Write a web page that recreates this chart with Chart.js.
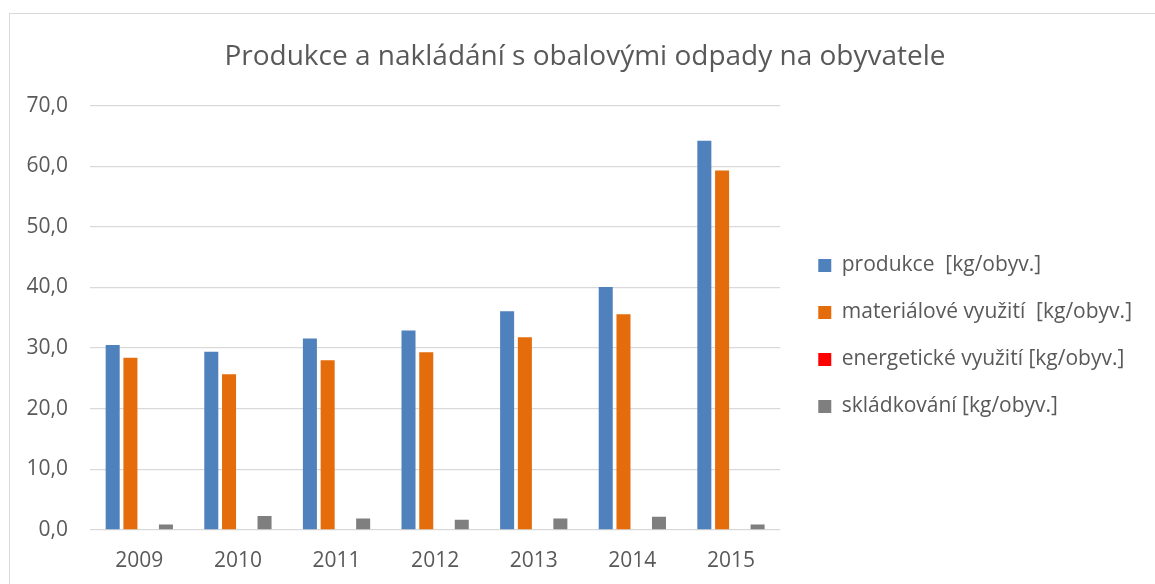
<!DOCTYPE html>
<html lang="cs">
<head>
<meta charset="utf-8">
<title>Produkce a nakládání s obalovými odpady na obyvatele</title>
<script src="https://cdn.jsdelivr.net/npm/chart.js@4.4.1/dist/chart.umd.min.js"></script>
<style>
  html, body { margin: 0; padding: 0; background: #fff; }
  #wrap { position: relative; width: 1155px; height: 584px; overflow: hidden; }
  #frame {
    position: absolute; left: 9px; top: 13px; right: -5px; bottom: -5px;
    border-left: 1px solid #d9d9d9; border-top: 1px solid #d9d9d9;
    pointer-events: none;
  }
  canvas { position: absolute; left: 0; top: 0; }
</style>
</head>
<body>
<div id="wrap">
  <canvas id="odpadyChart" width="1155" height="584"></canvas>
  <div id="frame"></div>
</div>
<script>
// roky na ose x
const roky = ['2009', '2010', '2011', '2012', '2013', '2014', '2015'];

// hodnoty v kg na obyvatele
const produkce    = [30.5, 29.4, 31.6, 32.9, 36.1, 40.1, 64.2];
const materialove = [28.4, 25.7, 28.0, 29.3, 31.8, 35.6, 59.3];
const energeticke = [0, 0, 0, 0, 0, 0, 0];
const skladkovani = [0.9, 2.3, 1.9, 1.7, 1.9, 2.2, 0.9];

const nazvySerii = [
  'produkce  [kg/obyv.]',
  'materiálové využití  [kg/obyv.]',
  'energetické využití [kg/obyv.]',
  'skládkování [kg/obyv.]'
];

const BARVY = {
  text: '#595959',
  grid: '#d9d9d9',
  serie: ['#4f81bd', '#e46c0a', '#ff0000', '#7f7f7f']
};

const PISMO = '"Open Sans", "Liberation Sans", sans-serif';

// posun legendy, aby seděla jako v Excelu
const legendaPosun = {
  id: 'legendaPosun',
  afterLayout(chart) {
    const lg = chart.legend;
    if (!lg) return;
    const dx = -8, dy = 44;
    lg.left += dx; lg.right += dx;
    lg.top += dy; lg.bottom += dy;
  }
};

const hodnoty = [produkce, materialove, energeticke, skladkovani];

const ctx = document.getElementById('odpadyChart').getContext('2d');
new Chart(ctx, {
  type: 'bar',
  data: {
    labels: roky,
    datasets: hodnoty.map((data, i) => ({
      label: nazvySerii[i],
      data: data,
      backgroundColor: BARVY.serie[i],
      borderWidth: 0,
      barPercentage: 0.79,
      categoryPercentage: 0.72
    }))
  },
  options: {
    responsive: false,
    animation: false,
    devicePixelRatio: 1,
    layout: { padding: { left: 20, right: 5, top: 0, bottom: 0 } },
    scales: {
      x: {
        grid: { display: false, drawTicks: false },
        border: { display: false },
        ticks: { color: BARVY.text, padding: 18, font: { family: PISMO, size: 21 } },
        afterFit(scale) { scale.height = 54; }
      },
      y: {
        min: 0,
        max: 70,
        grid: { color: BARVY.grid, lineWidth: 1.3, drawTicks: false },
        border: { display: false },
        ticks: {
          stepSize: 10,
          color: BARVY.text,
          padding: 22,
          font: { family: PISMO, size: 21 },
          callback: v => v.toFixed(1).replace('.', ',')
        },
        afterFit(scale) { scale.width = 70; }
      },
      // prázdná osa vpravo jen jako mezera mezi grafem a legendou
      mezera: {
        position: 'right',
        grid: { display: false },
        border: { display: false },
        ticks: { display: false },
        afterFit(scale) { scale.width = 20; }
      }
    },
    plugins: {
      title: {
        display: true,
        text: 'Produkce a nakládání s obalovými odpady na obyvatele',
        color: BARVY.text,
        font: { family: PISMO, size: 28, weight: 'normal' },
        padding: { top: 40, bottom: 32 }
      },
      legend: {
        position: 'right',
        maxWidth: 420,
        labels: {
          color: BARVY.text,
          boxWidth: 13,
          boxHeight: 13,
          padding: 26,
          font: { family: PISMO, size: 21 }
        }
      },
      tooltip: { enabled: false }
    }
  },
  plugins: [legendaPosun]
});
</script>
</body>
</html>
